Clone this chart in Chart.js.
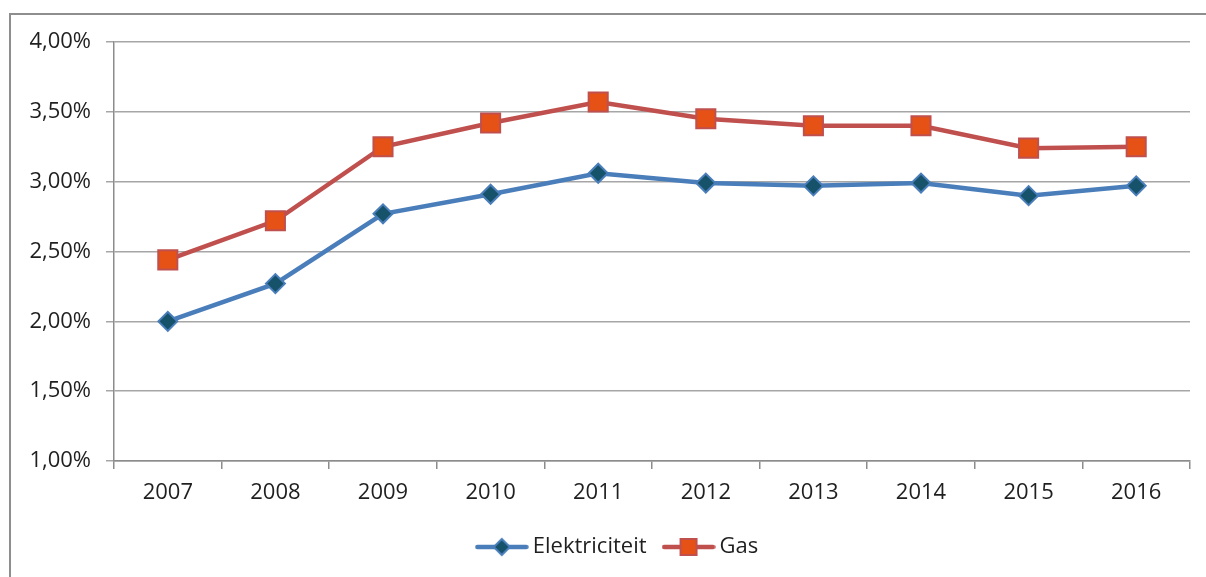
<!DOCTYPE html>
<html><head><meta charset="utf-8">
<script src="https://cdn.jsdelivr.net/npm/chart.js@4"></script>
<style>
html,body{margin:0;padding:0;background:#fff;overflow:hidden;width:1206px;height:577px;}
#frame{position:absolute;left:9px;top:13px;width:1400px;height:800px;border:2px solid #8e8e8e;box-sizing:border-box;}
#c{position:absolute;left:0;top:0;}
</style></head><body>
<div id="frame"></div>
<canvas id="c" width="1206" height="577"></canvas>
<script>
const years = ['2007','2008','2009','2010','2011','2012','2013','2014','2015','2016'];
const elektriciteit = [2.00, 2.27, 2.77, 2.91, 3.06, 2.99, 2.97, 2.99, 2.90, 2.97];
const gas = [2.44, 2.72, 3.25, 3.42, 3.57, 3.45, 3.40, 3.40, 3.24, 3.25];
const seriesNames = ['Elektriciteit', 'Gas'];

const FONT = 'Open Sans';
const FS = 22;
const TXT = '#1f1f1f';
const blue = 'rgb(74,126,187)', blueFill = 'rgb(22,82,106)';
const red = 'rgb(192,80,77)', redFill = 'rgb(230,82,22)';

function legendIcon(line, fill, border, shape) {
  const c = document.createElement('canvas'); c.width = 54; c.height = 20;
  const g = c.getContext('2d');
  g.strokeStyle = line; g.lineWidth = 4.5; g.lineCap = 'round';
  g.beginPath(); g.moveTo(2.5, 10); g.lineTo(51.5, 10); g.stroke();
  g.fillStyle = fill; g.strokeStyle = border; g.lineWidth = 2;
  if (shape === 'diamond') {
    g.beginPath(); g.moveTo(27, 2); g.lineTo(35, 10); g.lineTo(27, 18); g.lineTo(19, 10); g.closePath(); g.fill(); g.stroke();
  } else {
    g.fillRect(19, 2, 16, 16); g.strokeRect(19, 2, 16, 16);
  }
  return c;
}
const icons = [legendIcon(blue, blueFill, blue, 'diamond'), legendIcon(red, redFill, red, 'square')];

const shiftLegend = {
  id: 'shiftLegend',
  afterLayout(chart) {
    const lg = chart.legend;
    if (lg) { lg.left += 25; lg.right += 25; }
  }
};

new Chart(document.getElementById('c'), {
  type: 'line',
  data: {
    labels: years,
    datasets: [
      { label: seriesNames[0], data: elektriciteit, borderColor: blue, borderWidth: 4.5, tension: 0,
        pointStyle: 'rectRot', pointRadius: 9.5, pointBackgroundColor: blueFill, pointBorderColor: blue, pointBorderWidth: 2 },
      { label: seriesNames[1], data: gas, borderColor: red, borderWidth: 4.5, tension: 0,
        pointStyle: 'rect', pointRadius: 13.5, pointBackgroundColor: redFill, pointBorderColor: red, pointBorderWidth: 2 }
    ]
  },
  plugins: [shiftLegend],
  options: {
    responsive: false,
    animation: false,
    layout: { padding: { left: 0, right: 16, top: 42, bottom: 9 } },
    plugins: {
      tooltip: { enabled: false },
      legend: {
        position: 'bottom',
        labels: {
          usePointStyle: true, pointStyleWidth: 40, padding: 22,
          font: { family: FONT, size: FS }, color: TXT,
          generateLabels: (chart) => chart.data.datasets.map((ds, i) => ({
            text: ds.label, pointStyle: icons[i], fillStyle: 'rgba(0,0,0,0)', strokeStyle: 'rgba(0,0,0,0)',
            lineWidth: 0, hidden: false, datasetIndex: i, fontColor: TXT
          }))
        }
      }
    },
    scales: {
      x: {
        offset: true,
        grid: { offset: true, drawOnChartArea: false, drawTicks: true, tickLength: 8, color: '#8c8c8c', lineWidth: 1.5 },
        border: { color: '#8c8c8c', width: 1.5 },
        ticks: { color: TXT, font: { family: FONT, size: FS }, padding: 11, maxRotation: 0, autoSkip: false },
        afterFit: s => { s.height = 53; }
      },
      y: {
        min: 1, max: 4,
        ticks: { stepSize: 0.5, padding: 15, color: TXT, font: { family: FONT, size: FS },
          callback: v => v.toFixed(2).replace('.', ',') + '%' },
        grid: { color: '#a6a6a6', lineWidth: 1.5, tickLength: 8 },
        border: { color: '#8c8c8c', width: 1.5 },
        afterFit: s => { s.width = 114; }
      }
    }
  }
});
</script>
</body></html>
